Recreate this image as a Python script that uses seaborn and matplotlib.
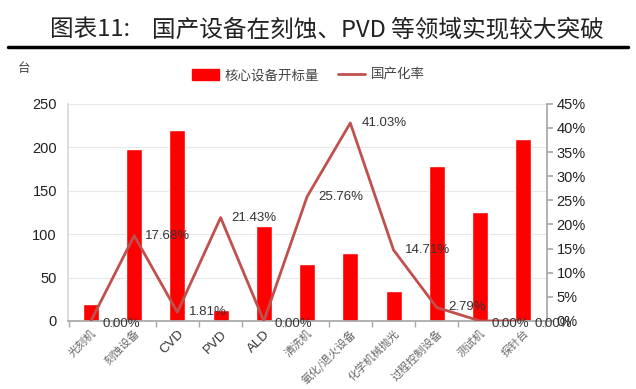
import matplotlib
matplotlib.use('Agg')
import matplotlib.pyplot as plt
import matplotlib.transforms as mtransforms
import seaborn as sns
import pandas as pd
from matplotlib.ticker import PercentFormatter
from matplotlib.patches import Patch
from matplotlib.lines import Line2D

# chart data
categories = ['光刻机', '刻蚀设备', 'CVD', 'PVD', 'ALD', '清洗机', '氧化/退火设备',
              '化学机械抛光', '过程控制设备', '测试机', '探针台']
bid_counts = [19, 198, 220, 13, 109, 66, 78, 34, 179, 126, 210]
local_rate = [0.00, 17.68, 1.81, 21.43, 0.00, 25.76, 41.03, 14.71, 2.79, 0.00, 0.00]

df = pd.DataFrame({'cat': categories, 'count': bid_counts, 'rate': local_rate})

sns.set_theme(style='white')
plt.rcParams['font.family'] = ['Noto Sans CJK SC', 'DejaVu Sans']

fig = plt.figure(figsize=(6.36, 3.89), dpi=100)
ax = fig.add_axes([0.107, 0.175, 0.753, 0.558])

bar_color = '#FF0000'
line_color = '#C0504D'
num_font = ['Liberation Sans', 'DejaVu Sans']

sns.barplot(data=df, x='cat', y='count', color=bar_color, width=0.37,
            saturation=1, ax=ax, zorder=2)
ax.set_ylim(0, 250)
ax.set_yticks(range(0, 251, 50))
ax.yaxis.grid(True, color='#E8E8E8', lw=0.8, zorder=0)
ax.set_xlabel('')
ax.set_ylabel('')
for s in ['top', 'right']:
    ax.spines[s].set_visible(False)
ax.spines['left'].set_color('#D8D8D8')
ax.spines['bottom'].set_color('#A8A8A8')
ax.tick_params(axis='y', labelsize=10.5, colors='#222222', length=0, pad=8)
for t in ax.get_yticklabels():
    t.set_family(num_font)

# x tick labels, rotated and nudged a little to the right
ax.set_xticks(range(len(categories)))
ax.set_xticklabels(categories, rotation=45, ha='right', rotation_mode='anchor',
                   fontsize=8, color='#666666')
shift = mtransforms.ScaledTranslation(3 / 72, 0, fig.dpi_scale_trans)
for t in ax.get_xticklabels():
    t.set_transform(t.get_transform() + shift)
    if t.get_text() in ('CVD', 'PVD', 'ALD'):
        t.set_family(num_font)
        t.set_fontsize(9.5)
        t.set_color('#333333')
ax.set_xticks([i + 0.5 for i in range(-1, len(categories))], minor=True)
ax.tick_params(axis='x', which='major', length=0, pad=5)
ax.tick_params(axis='x', which='minor', length=4, color='#A8A8A8', bottom=True)
ax.set_xlim(-0.53, len(categories) - 0.45)

ax2 = ax.twinx()
sns.lineplot(data=df, x='cat', y='rate', color=line_color, lw=2, ax=ax2,
             sort=False)
ax2.set_ylim(0, 45)
ax2.set_yticks(range(0, 46, 5))
ax2.yaxis.set_major_formatter(PercentFormatter(decimals=0))
ax2.set_ylabel('')
for s in ['top', 'left', 'bottom']:
    ax2.spines[s].set_visible(False)
ax2.spines['right'].set_color('#A8A8A8')
ax2.tick_params(axis='y', labelsize=10.5, colors='#222222', length=4,
                color='#A8A8A8', pad=3)
for t in ax2.get_yticklabels():
    t.set_family(num_font)

for i, r in enumerate(local_rate):
    ax2.annotate(f'{r:.2f}%', (i, r), xytext=(8, -2 if r < 1 else 0),
                 textcoords='offset points', ha='left', va='center',
                 fontsize=9.5, color='#333333', family=num_font)

# legend
handles = [Patch(color=bar_color), Line2D([], [], color=line_color, lw=2)]
fig.legend(handles, ['核心设备开标量', '国产化率'], loc='center',
           bbox_to_anchor=(0.485, 0.807), ncol=2, frameon=False, fontsize=9.7,
           handlelength=2.0, handleheight=0.8, handletextpad=0.4,
           columnspacing=1.4, labelcolor='#444444')

fig.text(0.028, 0.815, '台', fontsize=9, color='#444444')

# title block
fig.text(0.079, 0.923, '图表11:', fontsize=17, color='#222222', va='center')
fig.text(0.239, 0.923, '国产设备在刻蚀、PVD 等领域实现较大突破', fontsize=17,
         color='#222222', va='center')
fig.add_artist(Line2D([0.013, 0.987], [0.879, 0.879], color='black', lw=2.5,
                      transform=fig.transFigure))

fig.savefig('out.png', dpi=100)
